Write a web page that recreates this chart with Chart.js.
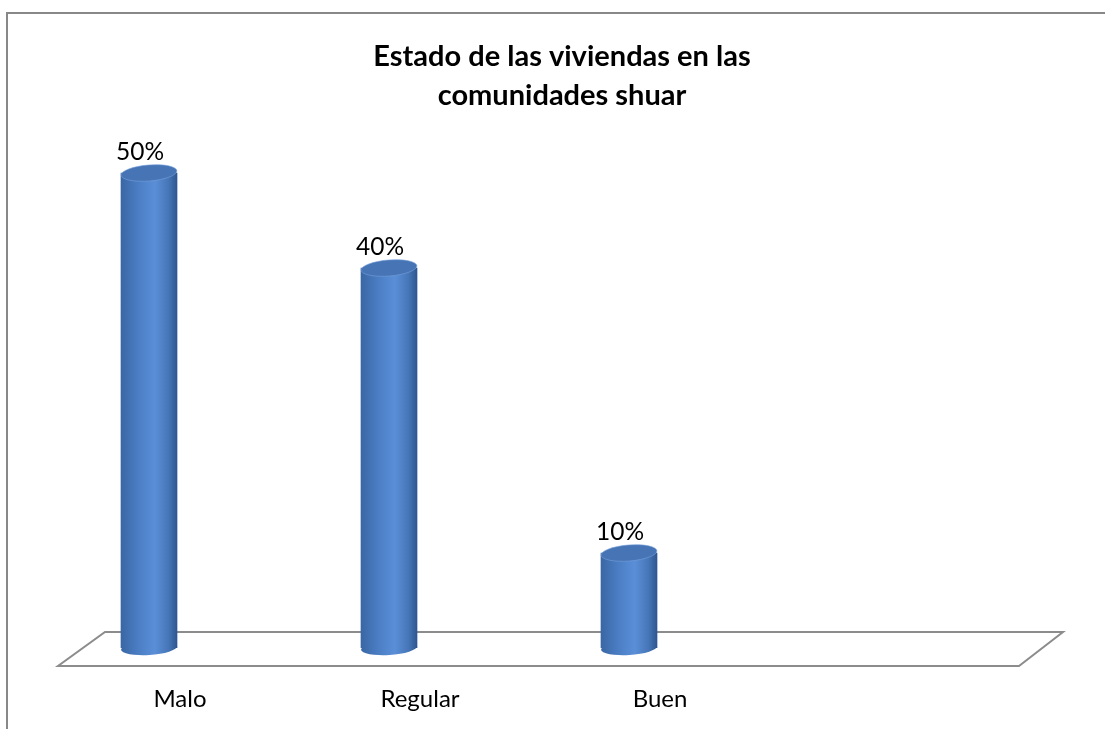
<!DOCTYPE html>
<html>
<head>
<meta charset="utf-8">
<script src="https://cdn.jsdelivr.net/npm/chart.js@4/dist/chart.umd.min.js"></script>
<style>
  body { margin: 0; background: #fff; overflow: hidden; }
  #wrap { position: relative; width: 1105px; height: 729px; }
  #frame { position: absolute; left: 6px; top: 12px; right: -10px; bottom: -10px;
           border-top: 2px solid #888; border-left: 2px solid #888; pointer-events: none; }
</style>
</head>
<body>
<div id="wrap">
  <canvas id="chart" width="1105" height="729"></canvas>
  <div id="frame"></div>
</div>
<script>
const categories = ['Malo', 'Regular', 'Buen', ''];
const values = [50, 40, 10, null];
const titleLines = ['Estado de las viviendas en las', 'comunidades shuar'];

const BAR_W = 56;
const FONT = 'Lato, "Open Sans", sans-serif';

// horizontal shading of the cylinder body
function bodyGradient(c, x) {
  const g = c.createLinearGradient(x - BAR_W / 2, 0, x + BAR_W / 2, 0);
  g.addColorStop(0, '#3a67a4');
  g.addColorStop(0.3, '#4a7dc3');
  g.addColorStop(0.6, '#5a8fd8');
  g.addColorStop(0.85, '#4676b7');
  g.addColorStop(1, '#2d568f');
  return g;
}

const cylinders = {
  id: 'cylinders',
  beforeDatasetsDraw(chart) {
    // floor of the 3d plot
    const c = chart.ctx;
    const a = chart.chartArea;
    const base = chart.scales.y.getPixelForValue(0);
    c.save();
    c.strokeStyle = '#8c8c8c';
    c.lineWidth = 2;
    c.beginPath();
    c.moveTo(a.left + 76, base - 16);
    c.lineTo(a.right + 74, base - 16);
    c.lineTo(a.right + 30, base + 18);
    c.lineTo(a.left + 29, base + 18);
    c.closePath();
    c.stroke();
    c.restore();
  },
  afterDatasetsDraw(chart) {
    const c = chart.ctx;
    const meta = chart.getDatasetMeta(0);
    const base = chart.scales.y.getPixelForValue(0);
    c.save();
    meta.data.forEach((bar, i) => {
      const v = values[i];
      if (v === null || v === undefined) return;
      // bottom cap
      c.fillStyle = bodyGradient(c, bar.x);
      c.beginPath();
      c.ellipse(bar.x, base, BAR_W / 2, 7, -0.06, 0, Math.PI * 2);
      c.fill();
      // top cap
      c.fillStyle = '#4674b4';
      c.beginPath();
      c.ellipse(bar.x, bar.y, BAR_W / 2, 8, -0.08, 0, Math.PI * 2);
      c.fill();
      c.strokeStyle = 'rgba(120,160,220,0.6)';
      c.lineWidth = 1;
      c.stroke();
      // value label
      c.fillStyle = '#000';
      c.font = '24.5px ' + FONT;
      c.textAlign = 'center';
      c.textBaseline = 'middle';
      c.fillText(v + '%', bar.x - 9, bar.y - 21);
    });
    c.restore();
  }
};

new Chart(document.getElementById('chart'), {
  type: 'bar',
  data: {
    labels: categories,
    datasets: [{
      data: values,
      barThickness: BAR_W,
      borderWidth: 0,
      backgroundColor: (ctx) => {
        const chart = ctx.chart;
        if (!chart.chartArea || ctx.dataIndex === undefined) return '#4a7dc3';
        const x = chart.scales.x.getPixelForValue(ctx.dataIndex);
        return bodyGradient(chart.ctx, x);
      }
    }]
  },
  options: {
    responsive: false,
    animation: false,
    devicePixelRatio: 1,
    layout: { padding: { left: 19, right: 0, top: 20, bottom: 15 } },
    plugins: {
      legend: { display: false },
      tooltip: { enabled: false },
      title: {
        display: true,
        text: titleLines,
        color: '#000',
        font: { family: FONT, size: 29, weight: 'bold', lineHeight: 1.345 },
        padding: { top: 17.5, bottom: 0.5 }
      }
    },
    scales: {
      x: {
        grid: { display: false, drawTicks: false },
        border: { display: false },
        ticks: {
          color: '#000',
          font: { family: FONT, size: 24 },
          padding: 37,
          labelOffset: 31,
          maxRotation: 0,
          autoSkip: false
        },
        afterFit: (s) => { s.height = 66; }
      },
      y: {
        position: 'left',
        min: 0,
        max: 56,
        grid: { display: false, drawTicks: false },
        border: { display: false },
        ticks: { display: false },
        afterFit: (s) => { s.width = 10; }
      },
      yr: {
        type: 'linear',
        position: 'right',
        grid: { display: false, drawTicks: false },
        border: { display: false },
        ticks: { display: false },
        afterFit: (s) => { s.width = 116; }
      }
    }
  },
  plugins: [cylinders]
});
</script>
</body>
</html>
